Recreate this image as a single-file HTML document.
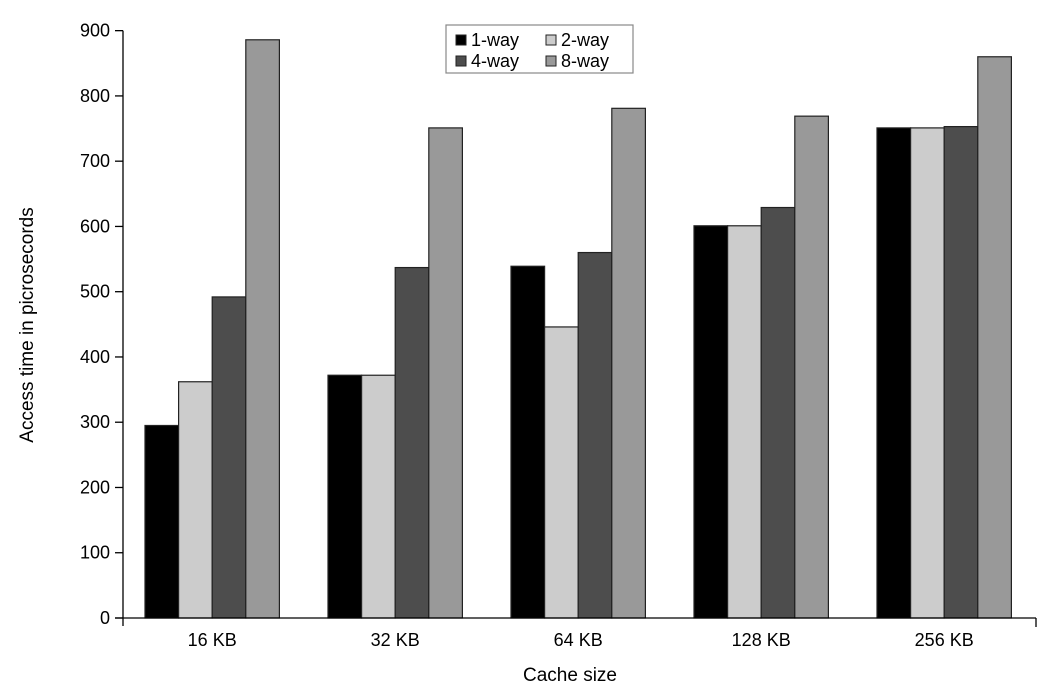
<!DOCTYPE html>
<html><head><meta charset="utf-8"><style>
body{margin:0;background:#fff;}
svg text{font-family:"Liberation Sans",sans-serif;fill:#000;}
</style></head><body>
<svg id="chart" width="1046" height="690" xmlns="http://www.w3.org/2000/svg">
<g id="bars"></g>
<g id="axes"></g>
<g>
<rect x="446" y="25" width="187" height="48" fill="#fff" stroke="#888" stroke-width="1.2"/>
<g id="legend"></g>
</g>
<text x="33" y="325" font-size="19" text-anchor="middle" transform="rotate(-90 33 325)">Access time in picrosecords</text>
<text x="570" y="681" font-size="19" text-anchor="middle">Cache size</text>
</svg>
<script>
const categories=["16 KB","32 KB","64 KB","128 KB","256 KB"];
const seriesNames=["1-way","2-way","4-way","8-way"];
const oneWay=[295,372,539,601,751];
const twoWay=[362,372,446,601,751];
const fourWay=[492,537,560,629,753];
const eightWay=[886,751,781,769,860];
const yTicks=[0,100,200,300,400,500,600,700,800,900];
const series=[oneWay,twoWay,fourWay,eightWay];
const colors=["#000000","#cccccc","#4d4d4d","#999999"];
const NS="http://www.w3.org/2000/svg";
const y0=618, pxPer=0.6526, axisX=123, axisEnd=1036;
const yScale=v=>y0-v*pxPer;
const groupStart=145, groupStep=183, barW=33.6;
const xScale=(ci,si)=>groupStart+ci*groupStep+si*barW;
function mk(tag,attrs){const e=document.createElementNS(NS,tag);for(const k in attrs)e.setAttribute(k,attrs[k]);return e;}
const bars=document.getElementById('bars');
categories.forEach((c,ci)=>{series.forEach((s,si)=>{
 const r=mk('rect',{x:xScale(ci,si),y:yScale(s[ci]),width:barW,height:y0-yScale(s[ci]),fill:colors[si],stroke:'#222','stroke-width':1.2});
 
 
 bars.appendChild(r);});
 const t=mk('text',{x:xScale(ci,0)+barW*2,y:y0+28,'font-size':18,'text-anchor':'middle'});
 t.textContent=c;
 
 
 bars.appendChild(t);
});
const axes=document.getElementById('axes');
const ya=mk('line',{x1:axisX,y1:yScale(900),x2:axisX,y2:y0+8,stroke:'#000','stroke-width':1.3});


axes.appendChild(ya);
const xa=mk('line',{x1:axisX-8,y1:y0,x2:axisEnd,y2:y0,stroke:'#000','stroke-width':1.3});


axes.appendChild(xa);
axes.appendChild(mk('line',{x1:axisEnd,y1:y0,x2:axisEnd,y2:y0+9,stroke:'#000','stroke-width':1.3}));
yTicks.forEach(v=>{
 axes.appendChild(mk('line',{x1:axisX-8,y1:yScale(v),x2:axisX,y2:yScale(v),stroke:'#000','stroke-width':1.3}));
 const t=mk('text',{x:axisX-13,y:yScale(v)+6,'font-size':18,'text-anchor':'end'});
 t.textContent=v;
 
 
 axes.appendChild(t);
});
const lg=document.getElementById('legend');
seriesNames.forEach((n,i)=>{
 const x=456+(i%2)*90, y=35+Math.floor(i/2)*21;
 lg.appendChild(mk('rect',{x:x,y:y,width:10,height:10,fill:colors[i],stroke:'#222','stroke-width':1}));
 const t=mk('text',{x:x+15,y:y+11,'font-size':18});
 t.textContent=n;
 
 
 lg.appendChild(t);
});
</script>
</body></html>
